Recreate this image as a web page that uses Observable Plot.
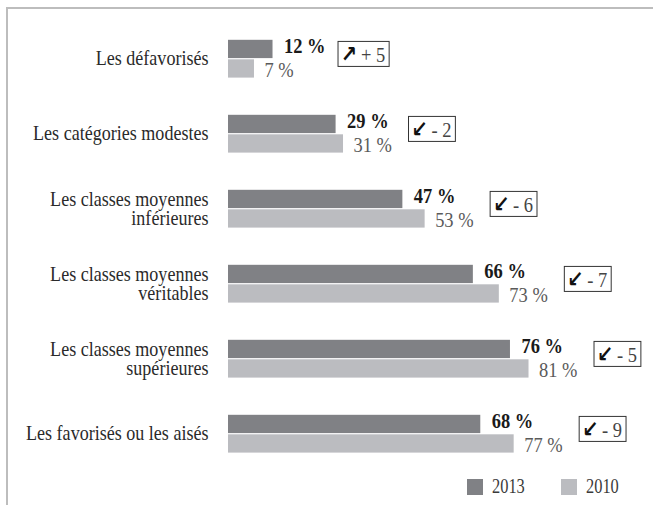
<!DOCTYPE html>
<html><head><meta charset="utf-8">
<script src="https://cdn.jsdelivr.net/npm/d3@7"></script>
<script src="https://cdn.jsdelivr.net/npm/@observablehq/plot@0.6"></script>
<style>
html,body{margin:0;padding:0;background:#fff;}
body{width:653px;height:515px;position:relative;overflow:hidden;font-family:"Liberation Serif",serif;}
#frame{position:absolute;left:6px;top:7px;width:647px;height:498px;border-top:2px solid #bdbdbd;border-left:2px solid #bdbdbd;box-sizing:border-box;}
#chart{position:absolute;left:8px;top:9px;}
#legend{position:absolute;left:467px;top:479px;height:16px;width:180px;}
.sw{position:absolute;top:0;width:16px;height:16px;}
.lab{position:absolute;top:-5px;font-size:20px;line-height:24px;transform:scaleX(0.82);transform-origin:left center;color:#3a3a3a;white-space:nowrap;}
</style></head>
<body><div id="frame"></div><div id="chart"></div><div id="legend"></div>
<script>
const categories = [
  "Les défavorisés",
  "Les catégories modestes",
  "Les classes moyennes\ninférieures",
  "Les classes moyennes\nvéritables",
  "Les classes moyennes\nsupérieures",
  "Les favorisés ou les aisés"
];
const v2013 = [12, 29, 47, 66, 76, 68];
const v2010 = [7, 31, 53, 73, 81, 77];
const change = [5, -2, -6, -7, -5, -9];
const years = ["2013", "2010"];
const colors = ["#808185", "#bbbcc0"];

const rows = categories.map((c, i) => ({
  cat: c, v13: v2013[i], v10: v2010[i], ch: change[i], mx: Math.max(v2013[i], v2010[i])
}));
const S = 0.84;
const UP = "\u2197", DOWN = "\u2199";

const svg = Plot.plot({
  width: 645, height: 466,
  marginLeft: 220, marginRight: 54, marginTop: 10, marginBottom: 2,
  x: {domain: [0, 100], axis: null},
  y: {domain: categories, axis: null, padding: 0},
  style: {fontFamily: "Liberation Serif", fontSize: "22px", background: "transparent", overflow: "visible"},
  marks: [
    Plot.barX(rows, {x: "v13", y: "cat", fill: colors[0], insetTop: 18.8, insetBottom: 37.9}),
    Plot.barX(rows, {x: "v10", y: "cat", fill: colors[1], insetTop: 38.3, insetBottom: 18.4}),
    Plot.text(rows, {y: "cat", text: "cat", frameAnchor: "left", textAnchor: "end", dx: -20, lineHeight: 0.9, fill: "#2a2a2a", fontSize: 21.5}),
    Plot.text(rows, {x: "v13", y: "cat", text: d => `${d.v13} %`, textAnchor: "start", dx: 11, dy: -13, fontWeight: "bold", fill: "#1a1a1a", fontSize: 22}),
    Plot.text(rows, {x: "v10", y: "cat", text: d => `${d.v10} %`, textAnchor: "start", dx: 10, dy: 11, fill: "#5a5a5a", fontSize: 22}),
    Plot.text(rows, {x: "mx", y: "cat", text: d => `${d.ch > 0 ? UP : DOWN}\u2009${d.ch > 0 ? "+" : "-"} ${Math.abs(d.ch)}`, textAnchor: "start", dx: 68, dy: -4, fill: "#444", fontSize: 22})
  ]
});
document.getElementById("chart").append(svg);

const ns = "http://www.w3.org/2000/svg";
const changeTexts = Array.from(svg.querySelectorAll("text")).filter(t => {
  const s = t.textContent || "";
  return s[0] === UP || s[0] === DOWN;
});
changeTexts.forEach(t => {
  const s = t.textContent;
  const arrow = s[0], rest = s.slice(1);
  t.textContent = "";
  const a = document.createElementNS(ns, "tspan");
  a.setAttribute("font-weight", "bold");
  a.setAttribute("font-family", "DejaVu Sans");
  a.setAttribute("font-size", "23");
  a.setAttribute("fill", "#111");
  a.textContent = arrow;
  const b = document.createElementNS(ns, "tspan");
  b.textContent = rest;
  t.append(a, b);
});

svg.querySelectorAll("text").forEach(t => {
  const tr = t.getAttribute("transform") || "";
  const x = +(t.getAttribute("x") || 0);
  t.setAttribute("transform", `${tr} translate(${x},0) scale(${S},1) translate(${-x},0)`);
});

changeTexts.forEach(t => {
  const bb = t.getBBox();
  const m = t.getCTM();
  const pts = [[bb.x, bb.y], [bb.x + bb.width, bb.y], [bb.x, bb.y + bb.height], [bb.x + bb.width, bb.y + bb.height]]
    .map(([px, py]) => [m.a * px + m.c * py + m.e, m.b * px + m.d * py + m.f]);
  const x0 = Math.min(...pts.map(p => p[0])), x1 = Math.max(...pts.map(p => p[0]));
  const y0 = Math.min(...pts.map(p => p[1])), y1 = Math.max(...pts.map(p => p[1]));
  const cy = (y0 + y1) / 2;
  const r = document.createElementNS(ns, "rect");
  r.setAttribute("x", x0 - 3);
  r.setAttribute("width", x1 - x0 + 7);
  r.setAttribute("y", cy - 12.5);
  r.setAttribute("height", 25);
  r.setAttribute("fill", "none");
  r.setAttribute("stroke", "#333");
  r.setAttribute("stroke-width", 1);
  svg.append(r);
});

const legend = document.getElementById("legend");
years.forEach((y, i) => {
  const sw = document.createElement("div");
  sw.className = "sw";
  sw.style.left = (i * 94) + "px";
  sw.style.background = colors[i];
  const lab = document.createElement("div");
  lab.className = "lab";
  lab.style.left = (i * 94 + 25) + "px";
  lab.textContent = y;
  legend.append(sw, lab);
});
</script>
</body></html>
